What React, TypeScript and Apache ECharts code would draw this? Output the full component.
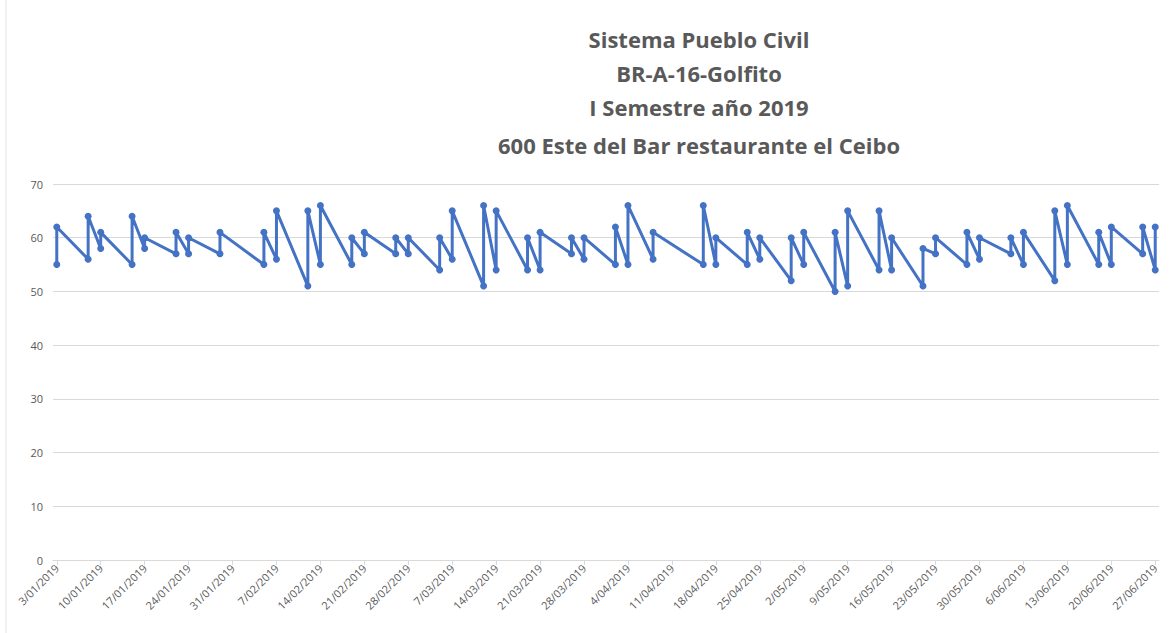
import React, { useEffect, useRef } from "react";
import * as echarts from "echarts";

const titleLines = [
  "Sistema Pueblo Civil",
  "BR-A-16-Golfito",
  "I Semestre año 2019",
  "600 Este del Bar restaurante el Ceibo",
];

const tickLabels = [
  "3/01/2019", "10/01/2019", "17/01/2019", "24/01/2019", "31/01/2019",
  "7/02/2019", "14/02/2019", "21/02/2019", "28/02/2019", "7/03/2019",
  "14/03/2019", "21/03/2019", "28/03/2019", "4/04/2019", "11/04/2019",
  "18/04/2019", "25/04/2019", "2/05/2019", "9/05/2019", "16/05/2019",
  "23/05/2019", "30/05/2019", "6/06/2019", "13/06/2019", "20/06/2019",
  "27/06/2019",
];

const dates = [
  "3/01", "8/01", "10/01", "15/01", "17/01", "22/01", "24/01", "29/01",
  "5/02", "7/02", "12/02", "14/02", "19/02", "21/02", "26/02", "28/02",
  "5/03", "7/03", "12/03", "14/03", "19/03", "21/03", "26/03", "28/03",
  "2/04", "4/04", "8/04", "16/04", "18/04", "23/04", "25/04", "30/04",
  "2/05", "7/05", "9/05", "14/05", "16/05", "21/05", "23/05", "28/05", "30/05",
  "4/06", "6/06", "11/06", "13/06", "18/06", "20/06", "25/06", "27/06",
];

const firstReading = [
  55, 56, 58, 55, 58, 57, 57, 57,
  55, 56, 51, 55, 55, 57, 57, 57,
  54, 56, 51, 54, 54, 54, 57, 56,
  55, 55, 56, 55, 55, 55, 56, 52,
  55, 50, 51, 54, 54, 51, 57, 55, 56,
  57, 55, 52, 55, 55, 55, 57, 54,
];

const secondReading = [
  62, 64, 61, 64, 60, 61, 60, 61,
  61, 65, 65, 66, 60, 61, 60, 60,
  60, 65, 66, 65, 60, 61, 60, 60,
  62, 66, 61, 66, 60, 61, 60, 60,
  61, 61, 65, 65, 60, 58, 60, 61, 60,
  60, 61, 65, 66, 61, 62, 62, 62,
];

const START = Date.UTC(2019, 0, 3);
function dayOffset(d: string): number {
  const [dd, mm] = d.split("/").map(Number);
  return Math.round((Date.UTC(2019, mm - 1, dd) - START) / 86400000);
}

export default function App() {
  const ref = useRef<HTMLDivElement>(null);
  useEffect(() => {
    if (!ref.current) return;
    const chart = echarts.init(ref.current, null, { renderer: "svg" });
    const data: [number, number][] = [];
    dates.forEach((d, i) => {
      const x = dayOffset(d);
      data.push([x, firstReading[i]]);
      data.push([x, secondReading[i]]);
    });
    const tickValues = tickLabels.map((_, i) => i * 7);
    const titleTops = [23, 57, 91, 129];
    chart.setOption({
      animation: false,
      backgroundColor: "#ffffff",
      title: titleLines.map((t, i) => ({
        text: t,
        left: 694,
        top: titleTops[i],
        textAlign: "center",
        textStyle: {
          fontFamily: "Open Sans",
          fontWeight: "bold",
          fontSize: 22,
          color: "#595959",
        },
      })),
      graphic: [
        {
          type: "line",
          shape: { x1: 6, y1: 0, x2: 6, y2: 633 },
          style: { stroke: "#e3e3e3", lineWidth: 1 },
        },
      ],
      grid: { left: 53, right: 10, top: 184, bottom: 73 },
      xAxis: {
        type: "value",
        min: -0.6,
        max: 175.6,
        axisLine: { show: true, lineStyle: { color: "#d9d9d9", width: 1 } },
        axisTick: {
          show: true,
          length: 5,
          customValues: tickValues,
          lineStyle: { color: "#d9d9d9" },
        },
        splitLine: { show: false },
        axisLabel: {
          rotate: 45,
          fontSize: 11,
          color: "#595959",
          fontFamily: "Open Sans",
          margin: 6,
          customValues: tickValues,
          formatter: (v: number) => tickLabels[Math.round(v / 7)] ?? "",
        },
      },
      yAxis: {
        type: "value",
        min: 0,
        max: 70,
        interval: 10,
        axisLine: { show: false },
        axisTick: { show: false },
        splitLine: { lineStyle: { color: "#d9d9d9", width: 1 } },
        axisLabel: {
          fontSize: 11,
          color: "#595959",
          fontFamily: "Open Sans",
          margin: 10,
        },
      },
      series: [
        {
          type: "line",
          data,
          symbol: "circle",
          symbolSize: 7,
          lineStyle: { color: "#4472C4", width: 3 },
          itemStyle: { color: "#4472C4" },
        },
      ],
    });
    return () => chart.dispose();
  }, []);
  return <div ref={ref} style={{ width: 1169, height: 633, position: "absolute", left: 0, top: 0 }} />;
}
